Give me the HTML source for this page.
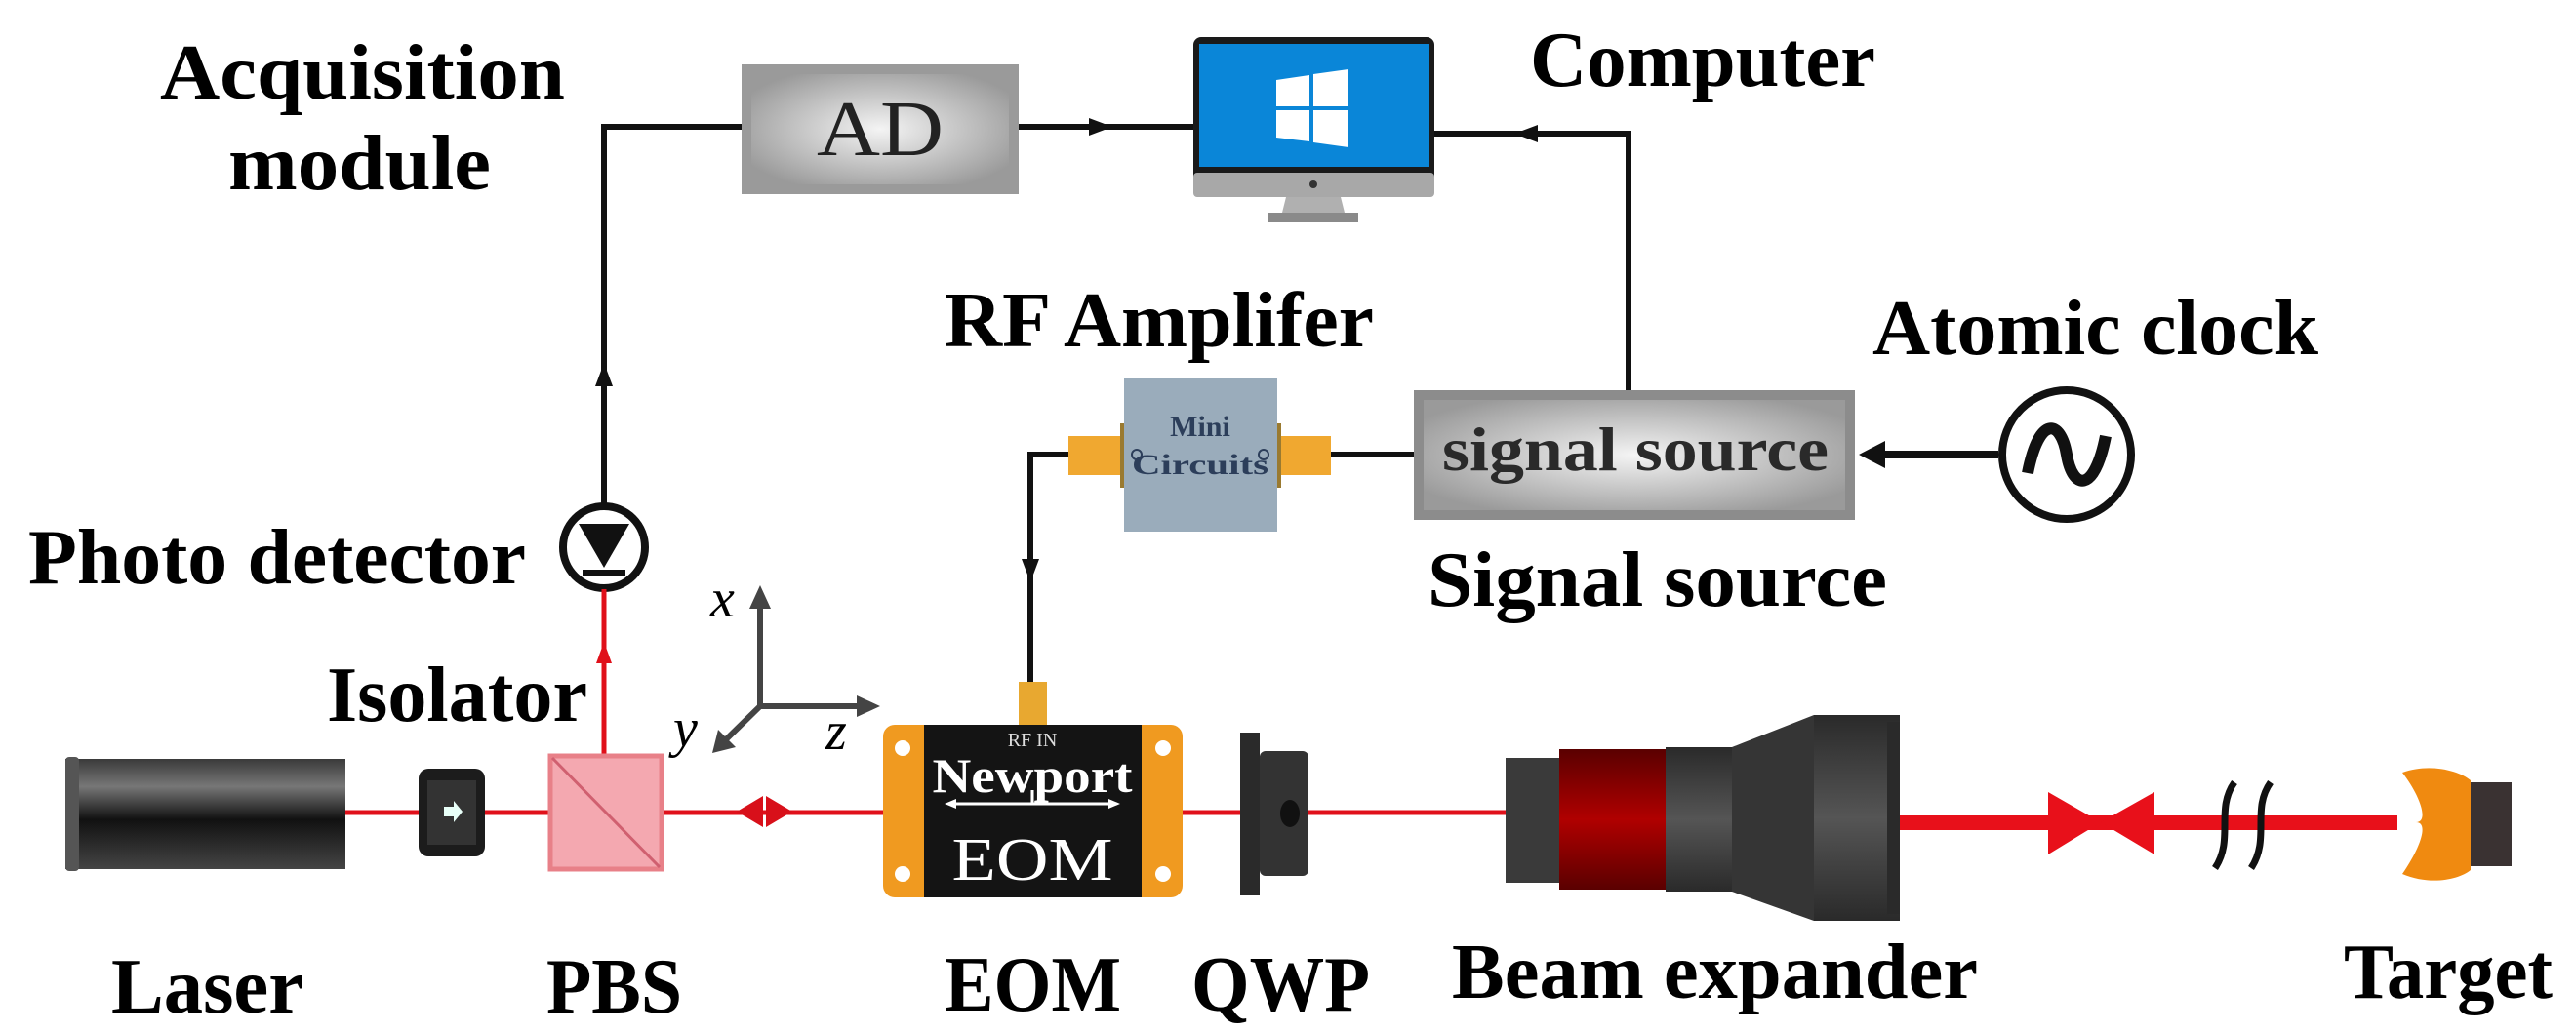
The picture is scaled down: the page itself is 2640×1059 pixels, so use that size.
<!DOCTYPE html>
<html><head><meta charset="utf-8"><style>
html,body{margin:0;padding:0;background:#fff}
svg{display:block}
.t{font-family:"Liberation Serif",serif;font-weight:bold;font-size:80px;fill:#000}
</style></head><body>
<svg width="2640" height="1059" viewBox="0 0 2640 1059" xmlns="http://www.w3.org/2000/svg">
<defs>
<linearGradient id="gbox" x1="0" y1="0" x2="1" y2="0">
<stop offset="0" stop-color="#8a8a8a"/><stop offset="0.5" stop-color="#f0f0f0"/><stop offset="1" stop-color="#8a8a8a"/></linearGradient>
<radialGradient id="gbox2" cx="0.5" cy="0.5" r="0.6"><stop offset="0" stop-color="#f4f4f4"/><stop offset="1" stop-color="#9a9a9a"/></radialGradient>
<linearGradient id="glaser" x1="0" y1="0" x2="0" y2="1">
<stop offset="0" stop-color="#3a3a3a"/><stop offset="0.25" stop-color="#777"/><stop offset="0.55" stop-color="#111"/><stop offset="1" stop-color="#444"/></linearGradient>
<linearGradient id="gred" x1="0" y1="0" x2="0" y2="1">
<stop offset="0" stop-color="#5a0000"/><stop offset="0.5" stop-color="#b00000"/><stop offset="1" stop-color="#5a0000"/></linearGradient>
<linearGradient id="gdark" x1="0" y1="0" x2="0" y2="1">
<stop offset="0" stop-color="#2a2a2a"/><stop offset="0.5" stop-color="#555"/><stop offset="1" stop-color="#2a2a2a"/></linearGradient>
</defs>

<!-- Labels -->
<text class="t" x="164" y="101" textLength="415" lengthAdjust="spacingAndGlyphs">Acquisition</text>
<text class="t" x="234" y="194" textLength="269" lengthAdjust="spacingAndGlyphs">module</text>
<text class="t" x="1568" y="88" textLength="354" lengthAdjust="spacingAndGlyphs">Computer</text>
<text class="t" x="968" y="355" textLength="440" lengthAdjust="spacingAndGlyphs">RF Amplifer</text>
<text class="t" x="1919" y="363" textLength="457" lengthAdjust="spacingAndGlyphs">Atomic clock</text>
<text class="t" x="29" y="598" textLength="510" lengthAdjust="spacingAndGlyphs">Photo detector</text>
<text class="t" x="1463" y="621" textLength="471" lengthAdjust="spacingAndGlyphs">Signal source</text>
<text class="t" x="335" y="739" textLength="267" lengthAdjust="spacingAndGlyphs">Isolator</text>
<text class="t" x="114" y="1038" textLength="197" lengthAdjust="spacingAndGlyphs">Laser</text>
<text class="t" x="560" y="1038" textLength="139" lengthAdjust="spacingAndGlyphs">PBS</text>
<text class="t" x="968" y="1036" textLength="181" lengthAdjust="spacingAndGlyphs">EOM</text>
<text class="t" x="1221" y="1036" textLength="183" lengthAdjust="spacingAndGlyphs">QWP</text>
<text class="t" x="1488" y="1023" textLength="539" lengthAdjust="spacingAndGlyphs">Beam expander</text>
<text class="t" x="2402" y="1023" textLength="214" lengthAdjust="spacingAndGlyphs">Target</text>

<!-- black connectors -->
<g stroke="#111" stroke-width="6" fill="none">
<polyline points="760,130 619,130 619,517"/>
<line x1="1044" y1="130" x2="1225" y2="130"/>
<polyline points="1470,137 1669,137 1669,400"/>
<polyline points="1095,466 1056,466 1056,699"/>
<line x1="1364" y1="466" x2="1450" y2="466"/>
<line x1="2048" y1="466" x2="1915" y2="466" stroke-width="8"/>
</g>
<g fill="#111">
<polygon points="619,372 610,396 628,396"/>
<polygon points="1140,130 1116,121 1116,139"/>
<polygon points="1552,137 1576,128 1576,146"/>
<polygon points="1056,597 1047,573 1065,573"/>
<polygon points="1905,466 1932,452 1932,480"/>
</g>

<!-- AD box -->
<rect x="760" y="66" width="284" height="133" fill="#9a9a9a"/>
<rect x="770" y="76" width="264" height="113" fill="url(#gbox2)"/>
<text x="902" y="159" text-anchor="middle" font-family="Liberation Serif,serif" font-size="80" fill="#222" textLength="130" lengthAdjust="spacingAndGlyphs">AD</text>

<!-- Computer -->
<rect x="1223" y="38" width="247" height="164" rx="8" fill="#1a1a1a"/>
<rect x="1229" y="45" width="235" height="126" fill="#0a86d8"/>
<rect x="1223" y="177" width="247" height="25" rx="4" fill="#a8a8a8"/>
<circle cx="1346" cy="189" r="4" fill="#333"/>
<polygon points="1318,202 1374,202 1378,218 1314,218" fill="#b0b0b0"/>
<rect x="1300" y="218" width="92" height="10" fill="#8a8a8a"/>
<polygon points="1308,82 1342,77 1342,109 1308,109" fill="#fff"/>
<polygon points="1346,76 1382,71 1382,109 1346,109" fill="#fff"/>
<polygon points="1308,113 1342,113 1342,145 1308,141" fill="#fff"/>
<polygon points="1346,113 1382,113 1382,151 1346,146" fill="#fff"/>

<!-- Mini circuits -->
<rect x="1095" y="447" width="57" height="40" fill="#f0a830"/>
<rect x="1309" y="447" width="55" height="40" fill="#f0a830"/>
<rect x="1148" y="434" width="6" height="66" fill="#9a7a30"/>
<rect x="1307" y="434" width="6" height="66" fill="#9a7a30"/>
<rect x="1152" y="388" width="157" height="157" fill="#9aacbb"/>
<text x="1230" y="447" text-anchor="middle" font-family="Liberation Serif,serif" font-weight="bold" font-size="30" fill="#2c3e5a">Mini</text>
<text x="1230" y="486" text-anchor="middle" font-family="Liberation Serif,serif" font-weight="bold" font-size="30" fill="#2c3e5a" textLength="140" lengthAdjust="spacingAndGlyphs">Circuits</text>
<circle cx="1165" cy="466" r="5" fill="none" stroke="#2c3e5a" stroke-width="2"/>
<circle cx="1295" cy="466" r="5" fill="none" stroke="#2c3e5a" stroke-width="2"/>

<!-- Signal source box -->
<rect x="1449" y="400" width="452" height="133" fill="#8c8c8c"/>
<rect x="1459" y="410" width="432" height="113" fill="url(#gbox2)"/>
<text x="1676" y="482" text-anchor="middle" font-family="Liberation Serif,serif" font-weight="bold" font-size="64" fill="#2a2a2a" textLength="396" lengthAdjust="spacingAndGlyphs">signal  source</text>

<!-- Atomic clock -->
<circle cx="2118" cy="466" r="66" fill="#fff" stroke="#111" stroke-width="8"/>
<path d="M2078,485 C2090,425 2112,430 2118,466 C2124,502 2146,507 2158,447" fill="none" stroke="#111" stroke-width="12"/>

<!-- Photo detector -->
<circle cx="619" cy="561" r="42" fill="#fff" stroke="#111" stroke-width="8"/>
<polygon points="593,537 645,537 619,582" fill="#111"/>
<rect x="597" y="584" width="44" height="6" fill="#111"/>

<!-- red vertical beam -->
<line x1="619" y1="604" x2="619" y2="773" stroke="#e0101a" stroke-width="5"/>
<polygon points="619,658 611,680 627,680" fill="#e0101a"/>

<!-- Axes -->
<g stroke="#444" stroke-width="6" fill="#444">
<line x1="779" y1="724" x2="779" y2="612"/>
<line x1="779" y1="724" x2="890" y2="724"/>
<line x1="779" y1="724" x2="738" y2="764"/>
</g>
<g fill="#444">
<polygon points="779,600 768,624 790,624"/>
<polygon points="902,724 878,713 878,735"/>
<polygon points="730,772 736,748 754,766"/>
</g>
<g font-family="Liberation Serif,serif" font-style="italic" font-size="56" fill="#000">
<text x="728" y="632">x</text>
<text x="690" y="765">y</text>
<text x="846" y="768">z</text>
</g>

<!-- main thin beam -->
<line x1="354" y1="833" x2="1543" y2="833" stroke="#e0101a" stroke-width="5"/>
<!-- thick beam -->
<rect x="1947" y="836" width="510" height="15" fill="#e8101a"/>

<!-- Laser -->
<rect x="67" y="778" width="287" height="113" fill="url(#glaser)"/>
<rect x="67" y="776" width="14" height="117" rx="4" fill="#555"/>

<!-- Isolator -->
<rect x="429" y="788" width="68" height="90" rx="10" fill="#1c1c1c"/>
<rect x="438" y="800" width="50" height="66" fill="#333"/>
<polygon points="455,827 465,827 465,821 474,832 465,843 465,837 455,837" fill="#e8fff8"/>

<!-- PBS -->
<rect x="564" y="775" width="114" height="116" fill="#f4a8b0" stroke="#e88088" stroke-width="5"/>
<line x1="566" y1="777" x2="676" y2="889" stroke="#d06070" stroke-width="3"/>

<!-- double arrow -->
<polygon points="755,832 782,816 782,848" fill="#d8101a"/>
<polygon points="812,832 785,816 785,848" fill="#d8101a"/>

<!-- EOM -->
<rect x="1044" y="699" width="29" height="46" fill="#e8a830"/>
<rect x="905" y="743" width="307" height="177" rx="12" fill="#f09a20"/>
<rect x="947" y="743" width="223" height="177" fill="#141414"/>
<circle cx="925" cy="767" r="8" fill="#fff"/><circle cx="925" cy="896" r="8" fill="#fff"/>
<circle cx="1192" cy="767" r="8" fill="#fff"/><circle cx="1192" cy="896" r="8" fill="#fff"/>
<text x="1058" y="765" text-anchor="middle" font-family="Liberation Serif,serif" font-size="20" fill="#ddd">RF IN</text>
<text x="1058" y="812" text-anchor="middle" font-family="Liberation Serif,serif" font-weight="bold" font-size="50" fill="#fff" textLength="205" lengthAdjust="spacingAndGlyphs">Newport</text>
<line x1="974" y1="824" x2="1142" y2="824" stroke="#fff" stroke-width="3"/>
<line x1="1058" y1="810" x2="1058" y2="824" stroke="#fff" stroke-width="3"/>
<polygon points="968,824 980,819 980,829" fill="#fff"/><polygon points="1148,824 1136,819 1136,829" fill="#fff"/>
<text x="1058" y="902" text-anchor="middle" font-family="Liberation Serif,serif" font-size="62" fill="#fff" textLength="165" lengthAdjust="spacingAndGlyphs">EOM</text>

<!-- QWP -->
<rect x="1271" y="751" width="20" height="167" fill="#2a2a2a"/>
<rect x="1291" y="770" width="50" height="128" rx="6" fill="#333"/>
<ellipse cx="1322" cy="834" rx="10" ry="14" fill="#111"/>

<!-- Beam expander -->
<rect x="1543" y="777" width="57" height="128" fill="#3a3a3a"/>
<rect x="1598" y="768" width="109" height="144" fill="url(#gred)"/>
<rect x="1707" y="766" width="68" height="148" fill="url(#gdark)"/>
<polygon points="1775,766 1859,733 1859,944 1775,914" fill="#353535"/>
<rect x="1859" y="733" width="88" height="211" fill="url(#gdark)"/>
<rect x="1934" y="740" width="13" height="197" fill="#2a2a2a"/>

<!-- bowtie -->
<polygon points="2099,812 2153,843 2099,876" fill="#e8101a"/>
<polygon points="2208,812 2153,843 2208,876" fill="#e8101a"/>

<!-- break marks -->
<g stroke="#111" stroke-width="7" fill="none">
<path d="M2290,802 C2270,830 2290,860 2270,890"/>
<path d="M2327,802 C2307,830 2327,860 2307,890"/>
</g>

<!-- Target -->
<rect x="2528" y="802" width="46" height="86" fill="#3a3232"/>
<path d="M2462,792 C2490,782 2520,790 2532,800 L2532,892 C2520,902 2490,908 2462,896 C2480,870 2490,843 2476,843 C2490,843 2480,815 2462,792 Z" fill="#f08a10"/>
</svg>
</body></html>
